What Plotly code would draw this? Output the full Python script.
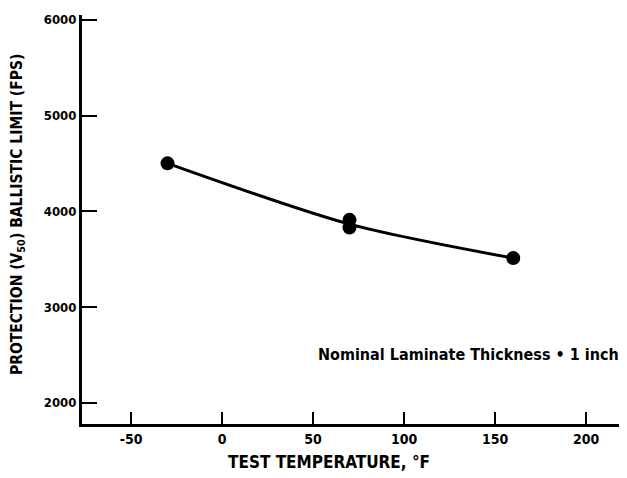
import plotly.graph_objects as go

# Data
temps = [-30, 70, 70, 160]
v50 = [4500, 3910, 3830, 3510]

curve_t = [-30, 70, 160]
curve_v = [4500, 3865, 3510]

x_ticks = [-50, 0, 50, 100, 150, 200]
y_ticks = [2000, 3000, 4000, 5000, 6000]

FONT = "DejaVu Sans Condensed"

fig = go.Figure()
fig.add_trace(go.Scatter(
    x=curve_t, y=curve_v, mode="lines",
    line=dict(color="black", width=3, shape="spline", smoothing=0.8),
    hoverinfo="skip", showlegend=False,
))
fig.add_trace(go.Scatter(
    x=temps, y=v50, mode="markers",
    marker=dict(color="black", size=14),
    showlegend=False,
))

PW, PH = 545, 409

fig.update_layout(
    width=619, height=470,
    margin=dict(l=74, r=0, t=7, b=54),
    paper_bgcolor="white", plot_bgcolor="white",
    font=dict(family=FONT, color="black", size=13, weight="bold"),
    xaxis=dict(
        range=[-77, 222.5], tickvals=x_ticks, ticktext=[str(v) for v in x_ticks],
        showgrid=False, zeroline=False, showline=True, linecolor="black", linewidth=3,
        ticks="inside", ticklen=12, tickwidth=2, tickcolor="black",
        tickfont=dict(family=FONT, size=14, weight="bold"),
    ),
    yaxis=dict(
        range=[1777, 6050], tickvals=y_ticks, ticktext=[str(v) for v in y_ticks],
        showgrid=False, zeroline=False, showline=True, linecolor="black", linewidth=3,
        ticks="inside", ticklen=15, tickwidth=2, tickcolor="black",
        tickfont=dict(family=FONT, size=13, weight="bold"),
    ),
    annotations=[
        dict(text="TEST TEMPERATURE, °F", xref="paper", yref="paper",
             x=(329 - 82) / PW, y=-(462 - 424) / PH, showarrow=False,
             xanchor="center", yanchor="middle",
             font=dict(family=FONT, size=17, weight="bold")),
        dict(text="PROTECTION (V<sub>50</sub>) BALLISTIC LIMIT (FPS)",
             xref="paper", yref="paper", textangle=-90,
             x=-(82 - 18) / PW, y=(424 - 215) / PH, showarrow=False,
             xanchor="center", yanchor="middle",
             font=dict(family=FONT, size=15.5, weight="bold")),
        dict(text="Nominal Laminate Thickness • 1 inch", xref="paper", yref="paper",
             x=(468 - 82) / PW, y=(424 - 354) / PH, showarrow=False,
             xanchor="center", yanchor="middle",
             font=dict(family=FONT, size=16, weight="bold")),
    ],
)

fig.write_html("out.html")
